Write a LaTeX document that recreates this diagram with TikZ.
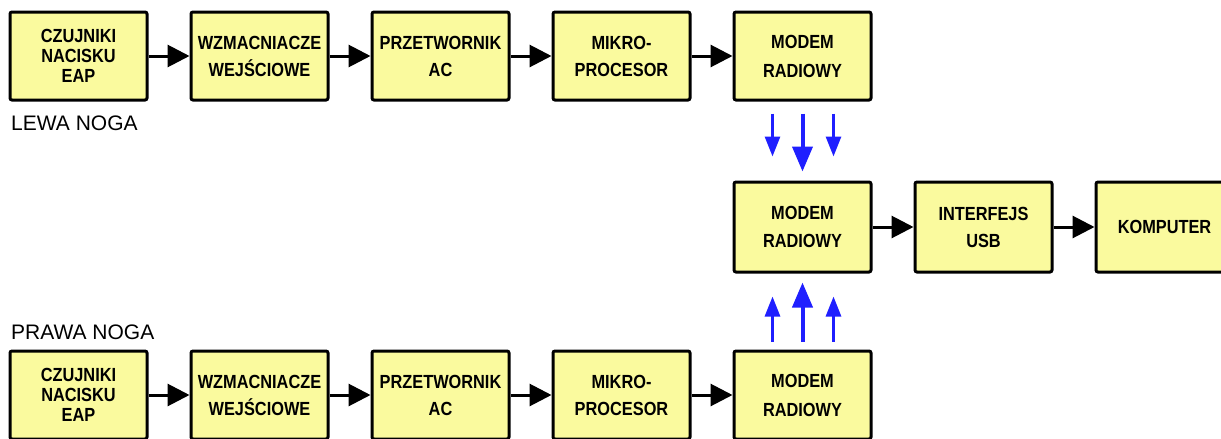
\documentclass[tikz,border=0pt]{standalone}
\usepackage{fontspec}
\setmainfont{Liberation Sans}
\newfontfamily\blokfont[FakeStretch=0.86]{Liberation Sans}
\usepackage{xcolor}
\usepackage{tikz}
\usetikzlibrary{positioning,arrows.meta}
\definecolor{boxyellow}{HTML}{FAFA9E}
\definecolor{radioblue}{HTML}{1F1FFF}

\begin{document}
\begin{tikzpicture}[x=1pt, y=1pt,
    blok/.style={rectangle, rounded corners=2pt, draw=black, fill=boxyellow,
      line width=3pt, minimum width=137pt, minimum height=88pt, inner sep=0pt,
      align=center, font=\blokfont\fontsize{19}{20}\selectfont\bfseries},
    leg/.style={anchor=west, inner sep=0pt, font=\fontsize{21}{24}\selectfont},
    arr/.style={-{Triangle[length=22pt,width=22pt]}, line width=3pt, color=black},
    radio/.style={-{Triangle[length=20pt,width=15pt]}, line width=3pt, color=radioblue},
    radiobig/.style={-{Triangle[length=25pt,width=20pt]}, line width=4pt, color=radioblue}
  ]
    \useasboundingbox (0,0) rectangle (1221,-439);

    % lewa noga
    \node[blok] (czL) at (78.5,-56) {CZUJNIKI\\NACISKU\\EAP};
    \node[blok, right=41pt of czL] (wzL) {WZMACNIACZE\\[7pt]WEJŚCIOWE};
    \node[blok, right=41pt of wzL] (prL) {PRZETWORNIK\\[7pt]AC};
    \node[blok, right=41pt of prL] (mpL) {MIKRO-\\[7pt]PROCESOR};
    \node[blok, right=41pt of mpL] (moL) {MODEM\\[9pt]RADIOWY};
    \node[leg] (lewa) at (11,-123.5) {LEWA NOGA};

    % odbiornik
    \node[blok, minimum height=90pt, below=79pt of moL] (moC) {MODEM\\[8pt]RADIOWY};
    \node[blok, minimum height=90pt, right=41pt of moC] (usb) {INTERFEJS\\[7pt]USB};
    \node[blok, minimum height=90pt, right=41pt of usb] (pc) {KOMPUTER};

    % prawa noga
    \node[blok] (czP) at (78.5,-395) {CZUJNIKI\\NACISKU\\EAP};
    \node[blok, right=41pt of czP] (wzP) {WZMACNIACZE\\[7pt]WEJŚCIOWE};
    \node[blok, right=41pt of wzP] (prP) {PRZETWORNIK\\[7pt]AC};
    \node[blok, right=41pt of prP] (mpP) {MIKRO-\\[7pt]PROCESOR};
    \node[blok, right=41pt of mpP] (moP) {MODEM\\[9pt]RADIOWY};
    \node[leg] (prawa) at (11,-332.5) {PRAWA NOGA};

    \draw[arr] (czL) -- (wzL);
    \draw[arr] (wzL) -- (prL);
    \draw[arr] (prL) -- (mpL);
    \draw[arr] (mpL) -- (moL);

    \draw[arr] (czP) -- (wzP);
    \draw[arr] (wzP) -- (prP);
    \draw[arr] (prP) -- (mpP);
    \draw[arr] (mpP) -- (moP);

    \draw[arr] (moC) -- (usb);
    \draw[arr] (usb) -- (pc);

    % lacze radiowe
    \draw[radio] ([xshift=-30pt,yshift=-12pt]moL.south) -- ([xshift=-30pt,yshift=24pt]moC.north);
    \draw[radiobig] ([yshift=-12pt]moL.south) -- ([yshift=9pt]moC.north);
    \draw[radio] ([xshift=31pt,yshift=-12pt]moL.south) -- ([xshift=31pt,yshift=24pt]moC.north);

    \draw[radio] ([xshift=-30pt,yshift=8pt]moP.north) -- ([xshift=-30pt,yshift=-23pt]moC.south);
    \draw[radiobig] ([yshift=8pt]moP.north) -- ([yshift=-9pt]moC.south);
    \draw[radio] ([xshift=31pt,yshift=8pt]moP.north) -- ([xshift=31pt,yshift=-23pt]moC.south);
\end{tikzpicture}
\end{document}
